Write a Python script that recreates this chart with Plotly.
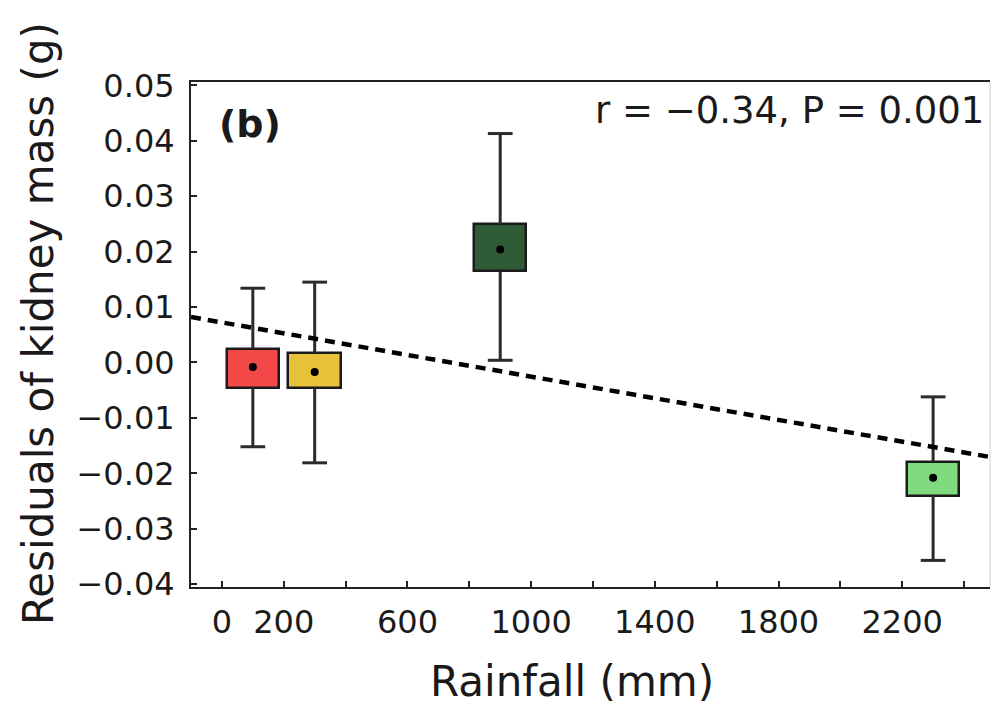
import plotly.graph_objects as go

# ---- data ----
rainfall = [100, 300, 900, 2300]                 # group positions (mm)
box_low = [-0.0046, -0.0046, 0.0165, -0.0240]    # lower box edge
box_high = [0.0024, 0.0017, 0.0249, -0.0179]     # upper box edge
means = [-0.0008, -0.0017, 0.0204, -0.0208]      # black dot
whisk_low = [-0.0152, -0.0181, 0.0004, -0.0357]
whisk_high = [0.0134, 0.0145, 0.0413, -0.0062]
colors = ["#F24848", "#E6C23A", "#2F5B36", "#80DA80"]

trend_x = [-100, 2500]
trend_y = [0.0082, -0.0172]

x_tickvals = [0, 200, 400, 600, 800, 1000, 1200, 1400, 1600, 1800, 2000, 2200, 2400]
x_ticktext = ["0", "200", "", "600", "", "1000", "", "1400", "", "1800", "", "2200", ""]
y_tickvals = [-0.04, -0.03, -0.02, -0.01, 0.0, 0.01, 0.02, 0.03, 0.04, 0.05]

FONT = "DejaVu Sans"
BOX_W = 170
CAP_HW = 40

fig = go.Figure()

# whiskers (drawn from box edges outward) and caps
for i, c in enumerate(rainfall):
    fig.add_trace(go.Scatter(
        x=[c, c, None, c, c, None, c - CAP_HW, c + CAP_HW, None, c - CAP_HW, c + CAP_HW],
        y=[box_high[i], whisk_high[i], None, box_low[i], whisk_low[i], None,
           whisk_high[i], whisk_high[i], None, whisk_low[i], whisk_low[i]],
        mode="lines", line=dict(color="#2b2b2b", width=3),
        showlegend=False, hoverinfo="skip"))

# box bodies
fig.add_trace(go.Bar(
    x=rainfall,
    y=[h - l for h, l in zip(box_high, box_low)],
    base=box_low,
    width=[BOX_W] * len(rainfall),
    marker=dict(color=colors, line=dict(color="#1a1a1a", width=2.5)),
    showlegend=False, hoverinfo="skip"))

# trend line
fig.add_trace(go.Scatter(
    x=trend_x, y=trend_y, mode="lines",
    line=dict(color="black", width=4.5, dash="10px,7px"),
    showlegend=False, hoverinfo="skip"))

# means
fig.add_trace(go.Scatter(
    x=rainfall, y=means, mode="markers",
    marker=dict(color="black", size=8),
    showlegend=False, hoverinfo="skip"))

fig.update_layout(
    width=992, height=705,
    margin=dict(l=191, r=2, t=82, b=118),
    plot_bgcolor="white", paper_bgcolor="white",
    font=dict(family=FONT, color="#1a1a1a"),
    bargap=0,
)

fig.update_xaxes(
    range=[-100, 2484],
    tickvals=x_tickvals, ticktext=x_ticktext,
    ticks="inside", ticklen=6, tickwidth=2, tickcolor="#222",
    tickfont=dict(size=32, family=FONT, color="#1a1a1a"),
    ticklabelstandoff=6,
    showline=True, linecolor="#222", linewidth=2, mirror=True,
    showgrid=False, zeroline=False,
)
fig.update_yaxes(
    range=[-0.0405, 0.0506],
    tickvals=y_tickvals, tickformat=".2f",
    ticks="inside", ticklen=6, tickwidth=2, tickcolor="#222",
    tickfont=dict(size=32, family=FONT, color="#1a1a1a"),
    ticklabelstandoff=8,
    showline=True, linecolor="#222", linewidth=2, mirror=False,
    showgrid=False, zeroline=False,
)

# faint right spine
fig.add_shape(type="line", xref="paper", yref="paper", x0=1, x1=1, y0=0, y1=1,
              line=dict(color="#cfcfcf", width=1))

fig.add_annotation(text="Rainfall (mm)", xref="paper", yref="paper",
                   x=(572 - 191) / 799, y=(587 - 681) / 505,
                   xanchor="center", yanchor="middle", showarrow=False,
                   font=dict(size=42, family=FONT, color="#1a1a1a"))
fig.add_annotation(text="Residuals of kidney mass (g)", xref="paper", yref="paper",
                   x=(38 - 191) / 799, y=(587 - 324) / 505, textangle=-90,
                   xanchor="center", yanchor="middle", showarrow=False,
                   font=dict(size=42, family=FONT, color="#1a1a1a"))
fig.add_annotation(text="<b>(b)</b>", xref="paper", yref="paper",
                   x=(250 - 191) / 799, y=(587 - 124) / 505,
                   xanchor="center", yanchor="middle", showarrow=False,
                   font=dict(size=38, family=FONT, color="#1a1a1a"))
fig.add_annotation(text="r = −0.34, P = 0.001", xref="paper", yref="paper",
                   x=(986 - 191) / 799, y=(587 - 110) / 505,
                   xanchor="right", yanchor="middle", showarrow=False,
                   font=dict(size=37, family=FONT, color="#1a1a1a"))

fig.write_html("out.html")
